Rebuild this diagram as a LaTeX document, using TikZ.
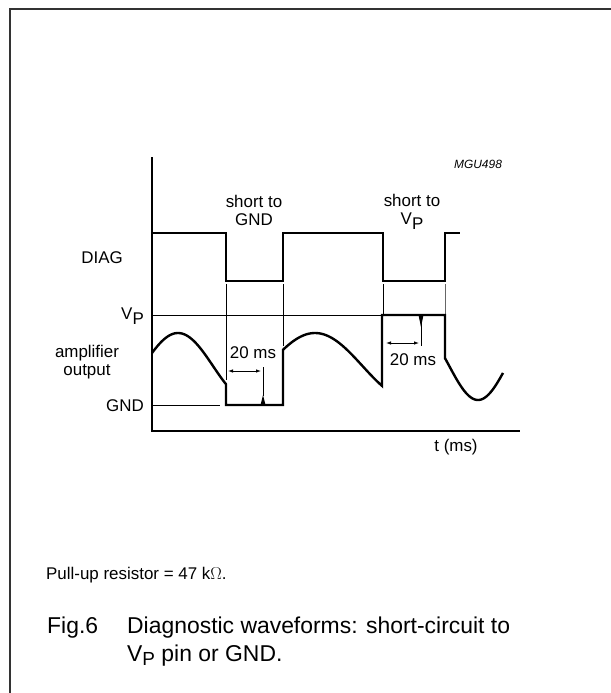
\documentclass[tikz,border=0pt]{standalone}
\usepackage{fontspec}
\setmainfont{Liberation Sans}
\usetikzlibrary{arrows.meta,positioning}

\begin{document}
\begin{tikzpicture}[x=1bp, y=-1bp,
    wave/.style={line width=2.4bp, line join=miter},
    guide/.style={line width=0.8bp},
    axis/.style={line width=1.2bp},
    lbl/.style={font=\fontsize{17}{19}\selectfont, inner sep=0pt},
    captxt/.style={font=\fontsize{23}{27}\selectfont, inner sep=0pt, anchor=base west},
    dim/.style={line width=0.8bp, {Latex[length=5bp,width=3.5bp]}-{Latex[length=5bp,width=3.5bp]}}]
    \useasboundingbox (0,0) rectangle (611,693);
    % Frame
    \draw[line width=2bp, black!80] (10,700) -- (10,9) -- (620,9);

    % Axes
    \coordinate (origin) at (152,431);
    \draw[axis] (152,157) -- (origin) -- (520,431);
    \node[lbl] (time) at (456,447) {t (ms)};
    \node[lbl, font=\itshape\fontsize{12}{14}\selectfont] (code) at (478,164) {MGU498};

    % Level lines
    \draw[guide] (152,315) -- (383,315);
    \draw[guide] (152,405) -- (220,405);
    \node[lbl, anchor=east] (diag) at (123,258) {DIAG};
    \node[lbl, anchor=east] (vp) at (144,316) {V\raisebox{-5bp}{P}};
    \node[lbl, align=center] (amp) at (87,362) {amplifier\\[-1bp]output};
    \node[lbl, anchor=east] (gnd) at (144,406) {GND};

    % DIAG waveform
    \draw[wave] (152,233) -- (226,233) -- (226,281) -- (283,281) -- (283,233)
        -- (383,233) -- (383,281) -- (445,281) -- (445,233) -- (460,233);
    \node[lbl, align=center] (sgnd) at (254,210) {short to\\[-1bp]GND};
    \node[lbl, align=center] (svp) at (412,212) {short to\\[-1bp]V\raisebox{-5bp}{P}};

    % Guide lines
    \draw[guide] (226,284) -- (226,380);
    \draw[guide] (283,284) -- (283,346);
    \draw[guide] (383,284) -- (383,315);
    \draw[guide, black!60] (445,284) -- (445,315);

    % Amplifier output waveform
    \draw[wave] plot[domain=152:226, samples=40] (\x, {366-33*cos((\x-178)/140*360)})
        -- (226,405) -- (283,405) -- (283,349)
        -- plot[domain=283:382, samples=50] (\x, {366-33*cos((\x-315)/190*360)})
        -- (382,315) -- (445,315) -- (445,359)
        -- plot[domain=445:503, samples=40] (\x, {366+34*cos((\x-478)/115*360)});
    % Spikes
    \fill (260.5,405) -- (263,395) -- (265.5,405) -- cycle;
    \fill (418.5,315) -- (421,327) -- (423.5,315) -- cycle;

    % 20 ms markers
    \draw[guide] (263,367) -- (263,396);
    \draw[dim] (228,371) -- (261,371);
    \node[lbl] (tone) at (253,353) {20 ms};
    \draw[guide] (421,322) -- (421,346);
    \draw[dim] (386,343) -- (419,343);
    \node[lbl] (ttwo) at (413,360) {20 ms};

    % Note and caption
    \node[lbl, anchor=base west] (note) at (46,579) {Pull-up resistor = 47 k$\Omega$.};
    \node[captxt] (fig) at (47,633) {Fig.6};
    \node[captxt] (capa) at (127,633) {Diagnostic waveforms: short-circuit to};
    \node[captxt] (capb) at (127,661) {V\raisebox{-4bp}{\fontsize{19}{21}\selectfont P} pin or GND.};
\end{tikzpicture}
\end{document}
